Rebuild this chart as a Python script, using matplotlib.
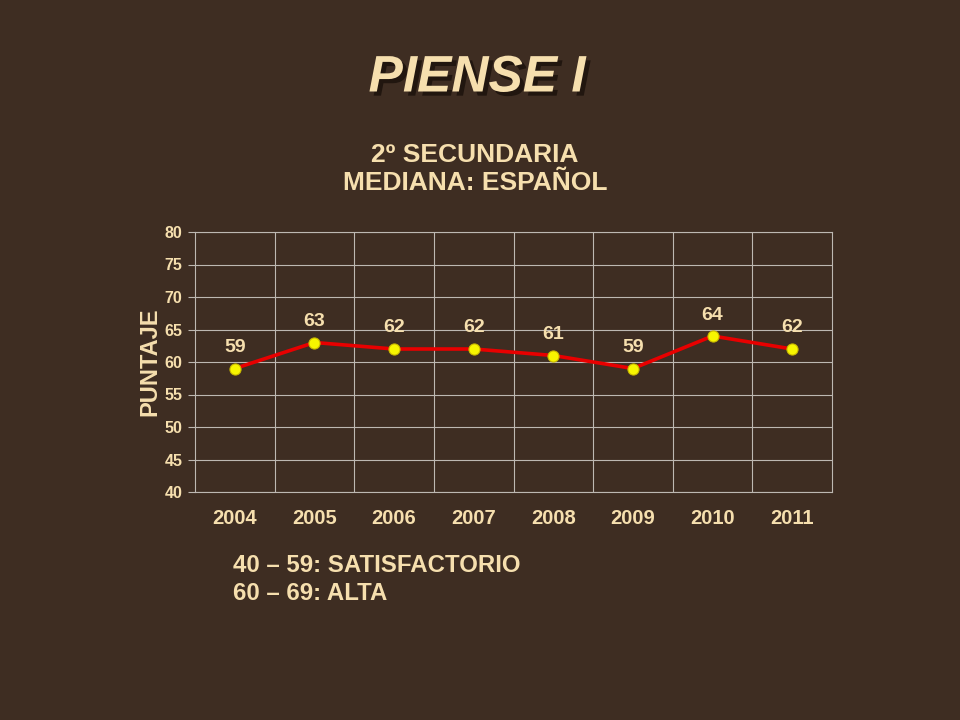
import matplotlib
matplotlib.use("Agg")
import matplotlib.pyplot as plt
import matplotlib.patheffects as pe

years = ["2004", "2005", "2006", "2007", "2008", "2009", "2010", "2011"]
values = [59, 63, 62, 62, 61, 59, 64, 62]
y_ticks = [40, 45, 50, 55, 60, 65, 70, 75, 80]
title = "PIENSE I"
subtitle = "2º SECUNDARIA\nMEDIANA: ESPAÑOL"
ylabel = "PUNTAJE"
notes = ["40 – 59: SATISFACTORIO", "60 – 69: ALTA"]

BG = "#3e2d22"
CREAM = "#f6dfae"
GRID = "#bdb8b2"
FONT = ["Liberation Sans", "DejaVu Sans"]

plt.rcParams["font.family"] = FONT

fig = plt.figure(figsize=(9.6, 7.2), dpi=100, facecolor=BG)
ax = fig.add_axes([195/960, 1-492/720, (832-195)/960, (492-232)/720])
ax.set_facecolor("none")

x = list(range(len(years)))
ax.plot(x, values, color="#e80000", lw=2.6, zorder=3)
ax.plot(x, values, ls="none", marker="o", ms=8, mfc="#f7f500",
        mec="#c8b800", mew=0.8, zorder=4)
for xi, v in zip(x, values):
    ax.annotate(str(v), (xi, v), xytext=(0, 9), textcoords="offset points",
                ha="center", va="bottom", color=CREAM, fontsize=14,
                fontweight="bold")

ax.set_xlim(-0.5, len(years) - 0.5)
ax.set_ylim(40, 80)
ax.set_yticks(y_ticks)
ax.set_yticklabels([str(t) for t in y_ticks], color=CREAM, fontsize=11.5,
                   fontweight="bold")
ax.set_xticks(x)
ax.set_xticklabels(years, color=CREAM, fontsize=14.5, fontweight="bold")
ax.set_xticks([i + 0.5 for i in x[:-1]], minor=True)
ax.tick_params(axis="x", which="both", length=0, pad=12)
ax.tick_params(axis="y", length=5, color=GRID, pad=4)
ax.grid(axis="y", color=GRID, lw=0.8)
ax.grid(axis="x", which="minor", color=GRID, lw=0.8)
for s in ax.spines.values():
    s.set_color(GRID)
    s.set_linewidth(0.8)

ax.set_ylabel(ylabel, color=CREAM, fontsize=17, fontweight="bold", labelpad=2)

fig.text(477/960, 1-78/720, title, ha="center", va="center", color=CREAM,
         fontsize=37, fontweight="bold", fontstyle="italic",
         path_effects=[pe.withSimplePatchShadow(offset=(3, -3),
                                                shadow_rgbFace="#1a110b",
                                                alpha=0.8)])
fig.text(475/960, 1-169/720, subtitle, ha="center", va="center", color=CREAM,
         fontsize=19, fontweight="bold", linespacing=1.25)
fig.text(233/960, 1-565/720, notes[0], ha="left", va="center", color=CREAM,
         fontsize=17.3, fontweight="bold")
fig.text(233/960, 1-594/720, notes[1], ha="left", va="center", color=CREAM,
         fontsize=17.3, fontweight="bold")

fig.savefig("out.png", dpi=100, facecolor=BG)
